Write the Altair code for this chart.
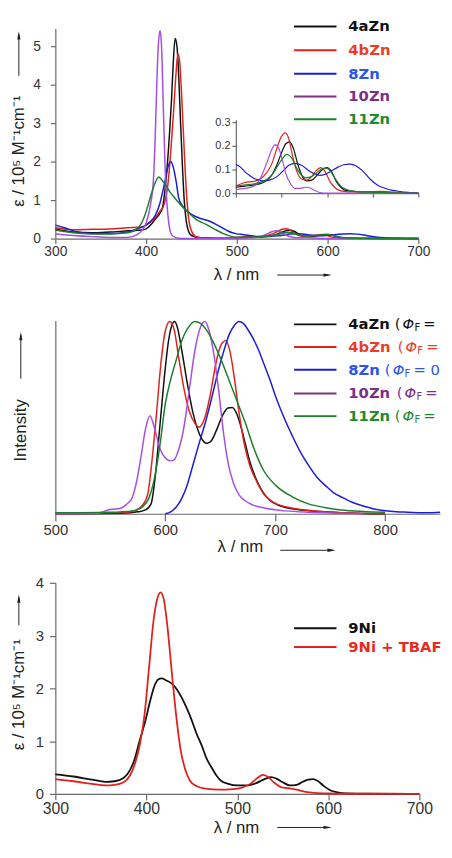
import altair as alt
import pandas as pd

# ---------------- Panel 1: absorption of the Zn complexes ----------------
series_zn = ["4aZn", "4bZn", "8Zn", "10Zn", "11Zn"]
line_colors_zn = ["#111111", "#e0221c", "#1c1cd8", "#a64de3", "#1b7f2c"]
legend_line_colors_zn = ["#111111", "#e0221c", "#1c1cd8", "#7d2f86", "#1b7f2c"]
legend_text_colors_zn = ["#111111", "#ea3d26", "#2a55e8", "#7d2f86", "#1f8a30"]

# Soret region (nm, 1e5 M-1 cm-1)
soret_wl_4aZn = [300, 320, 340, 360, 380, 395, 400, 405, 410, 415, 418, 420, 423, 426, 428, 430, 432, 434, 436, 438, 440, 442, 444, 446, 450, 460, 480]
soret_eps_4aZn = [0.25, 0.17, 0.15, 0.17, 0.2, 0.22, 0.25, 0.35, 0.5, 0.65, 0.8, 1.1, 1.8, 2.8, 3.6, 4.6, 5.2, 5.0, 4.2, 3.0, 1.9, 1.0, 0.5, 0.25, 0.08, 0.02, 0.01]
soret_wl_4bZn = [300, 320, 340, 360, 380, 395, 400, 410, 415, 420, 424, 427, 430, 433, 435, 437, 439, 441, 443, 445, 447, 450, 455, 465, 480]
soret_eps_4bZn = [0.28, 0.23, 0.24, 0.25, 0.28, 0.3, 0.35, 0.55, 0.7, 0.9, 1.4, 2.2, 3.2, 4.3, 4.8, 4.6, 3.8, 2.8, 1.8, 1.0, 0.5, 0.2, 0.05, 0.01, 0.01]
soret_wl_8Zn = [300, 310, 320, 340, 360, 380, 390, 400, 405, 410, 415, 420, 424, 427, 430, 433, 436, 440, 445, 450, 460, 470, 480, 490, 495]
soret_eps_8Zn = [0.35, 0.28, 0.2, 0.13, 0.13, 0.17, 0.25, 0.35, 0.45, 0.6, 0.9, 1.4, 1.85, 2.0, 1.85, 1.5, 1.05, 0.85, 0.72, 0.63, 0.52, 0.45, 0.33, 0.2, 0.15]
soret_wl_10Zn = [300, 320, 340, 360, 380, 390, 395, 400, 405, 408, 410, 412, 414, 415.5, 417, 419, 421, 423, 425, 428, 432, 440, 460, 490]
soret_eps_10Zn = [0.12, 0.08, 0.05, 0.03, 0.03, 0.1, 0.2, 0.4, 0.9, 1.5, 2.6, 4.2, 5.2, 5.4, 5.0, 3.4, 1.8, 0.9, 0.4, 0.1, 0.03, 0.0, 0.0, 0.01]
soret_wl_11Zn = [300, 320, 340, 360, 380, 390, 395, 400, 405, 410, 414, 418, 422, 426, 430, 436, 441, 447, 455, 465, 475, 485, 492]
soret_eps_11Zn = [0.22, 0.15, 0.12, 0.12, 0.15, 0.25, 0.4, 0.7, 1.1, 1.45, 1.6, 1.5, 1.38, 1.22, 1.1, 0.93, 0.8, 0.67, 0.5, 0.38, 0.25, 0.13, 0.07]

# Q-band region (shown in the main plot and in the inset)
q_wl_4aZn = [500, 510, 520, 530, 540, 545, 550, 555, 559, 563, 568, 573, 578, 583, 590, 595, 600, 605, 610, 615, 620, 640, 670, 700]
q_eps_4aZn = [0.025, 0.03, 0.035, 0.045, 0.08, 0.12, 0.17, 0.21, 0.217, 0.19, 0.12, 0.07, 0.052, 0.055, 0.08, 0.1, 0.108, 0.09, 0.05, 0.025, 0.012, 0.005, 0.003, 0.0]
q_wl_4bZn = [500, 510, 520, 530, 540, 545, 550, 554, 558, 562, 567, 572, 578, 583, 588, 593, 598, 603, 608, 615, 630, 660, 680, 700]
q_eps_4bZn = [0.03, 0.045, 0.05, 0.07, 0.13, 0.19, 0.24, 0.255, 0.23, 0.16, 0.09, 0.06, 0.055, 0.07, 0.095, 0.108, 0.09, 0.05, 0.025, 0.01, 0.005, 0.008, 0.002, 0.0]
q_wl_8Zn = [500, 505, 510, 515, 520, 525, 530, 537, 545, 552, 558, 565, 572, 580, 587, 592, 598, 605, 612, 618, 625, 632, 640, 647, 655, 664, 672, 680, 690, 700]
q_eps_8Zn = [0.122, 0.11, 0.09, 0.075, 0.062, 0.055, 0.052, 0.055, 0.07, 0.095, 0.118, 0.126, 0.118, 0.095, 0.08, 0.075, 0.08, 0.095, 0.11, 0.12, 0.123, 0.115, 0.09, 0.06, 0.035, 0.02, 0.012, 0.007, 0.003, 0.0]
q_wl_10Zn = [500, 510, 520, 525, 530, 535, 540, 543, 547, 551, 555, 560, 565, 570, 576, 581, 586, 592, 600, 700]
q_eps_10Zn = [0.015, 0.02, 0.03, 0.05, 0.09, 0.14, 0.19, 0.205, 0.19, 0.14, 0.08, 0.04, 0.02, 0.02, 0.025, 0.023, 0.012, 0.003, 0.0, 0.0]
q_wl_11Zn = [500, 510, 520, 530, 540, 545, 550, 556, 561, 566, 571, 577, 583, 590, 596, 600, 605, 610, 615, 620, 630, 650, 700]
q_eps_11Zn = [0.03, 0.035, 0.04, 0.05, 0.08, 0.11, 0.14, 0.164, 0.15, 0.11, 0.08, 0.065, 0.07, 0.09, 0.105, 0.105, 0.085, 0.055, 0.03, 0.018, 0.008, 0.004, 0.0]

# ---------------- Panel 2: normalised emission ----------------
em_wl_4aZn = [500, 560, 575, 582, 587, 591, 595, 599, 603, 606, 608.5, 611, 615, 620, 625, 630, 635, 638, 642, 647, 652, 657, 661, 665, 669, 673, 677, 682, 688, 695, 705, 720, 740, 760, 780, 800]
em_int_4aZn = [0.0, 0.003, 0.01, 0.02, 0.05, 0.2, 0.45, 0.7, 0.9, 0.98, 1.0, 0.97, 0.85, 0.68, 0.53, 0.43, 0.375, 0.366, 0.38, 0.44, 0.51, 0.55, 0.553, 0.52, 0.45, 0.36, 0.27, 0.19, 0.12, 0.07, 0.04, 0.022, 0.012, 0.006, 0.002, 0.0]
em_wl_4bZn = [500, 540, 560, 570, 576, 580, 584, 588, 592, 596, 600, 604, 608, 612, 617, 622, 627, 631, 636, 641, 646, 651, 655, 659, 663, 667, 672, 677, 683, 690, 700, 715, 730, 750, 780, 800]
em_int_4bZn = [0.0, 0.003, 0.006, 0.012, 0.025, 0.05, 0.1, 0.28, 0.52, 0.78, 0.95, 1.0, 0.96, 0.82, 0.65, 0.53, 0.47, 0.45, 0.5, 0.62, 0.78, 0.88, 0.9, 0.84, 0.7, 0.53, 0.36, 0.25, 0.17, 0.1, 0.055, 0.03, 0.018, 0.008, 0.002, 0.0]
em_wl_8Zn = [600, 605, 610, 615, 620, 625, 631, 637, 643, 649, 654, 658, 663, 667, 671, 676, 680, 685, 689, 695, 701, 708, 716, 723, 731, 738, 746, 753, 761, 770, 780, 790, 805, 820, 838, 850]
em_int_8Zn = [0.0, 0.01, 0.035, 0.08, 0.15, 0.25, 0.37, 0.485, 0.62, 0.76, 0.86, 0.93, 0.98, 1.0, 0.99, 0.95, 0.91, 0.85, 0.79, 0.7, 0.6, 0.5, 0.4, 0.32, 0.246, 0.19, 0.145, 0.11, 0.085, 0.06, 0.04, 0.025, 0.013, 0.008, 0.005, 0.008]
em_wl_10Zn = [500, 535, 542, 548, 555, 560, 565, 570, 574, 578, 582, 586, 590, 595, 600, 605, 608, 612, 617, 622, 627, 632, 636, 640, 645, 649, 653, 657, 662, 667, 672, 680, 690, 710, 730, 760, 780]
em_int_10Zn = [0.0, 0.0, 0.008, 0.02, 0.025, 0.03, 0.05, 0.085, 0.17, 0.3, 0.44, 0.51, 0.45, 0.34, 0.29, 0.275, 0.28, 0.33, 0.45, 0.65, 0.85, 0.97, 1.0, 0.95, 0.8, 0.62, 0.42, 0.27, 0.16, 0.1, 0.07, 0.045, 0.03, 0.015, 0.008, 0.003, 0.0]
em_wl_11Zn = [500, 550, 570, 580, 585, 590, 595, 600, 605, 610, 615, 620, 627, 632, 637, 643, 649, 655, 661, 667, 673, 680, 689, 701, 716, 731, 745, 760, 780, 800]
em_int_11Zn = [0.005, 0.008, 0.015, 0.04, 0.08, 0.18, 0.35, 0.57, 0.7, 0.8, 0.9, 0.96, 1.0, 0.99, 0.96, 0.9, 0.825, 0.74, 0.65, 0.56, 0.47, 0.35, 0.23, 0.145, 0.087, 0.05, 0.033, 0.02, 0.012, 0.008]

# ---------------- Panel 3: absorption of 9Ni ----------------
series_ni = ["9Ni", "9Ni + TBAF"]
line_colors_ni = ["#111111", "#e0221c"]
legend_text_colors_ni = ["#111111", "#ea2a1e"]
abs_wl_9Ni = [300, 320, 340, 355, 365, 375, 382, 387, 392, 399, 404, 409, 413, 416.7, 422, 428, 434, 439, 445, 450, 455, 461, 466, 472, 477, 482, 490, 500, 510, 520, 530, 537, 543, 550, 558, 565, 572, 578, 583, 588, 595, 602, 610, 620, 640, 700]
abs_eps_9Ni = [0.37, 0.33, 0.27, 0.23, 0.24, 0.3, 0.45, 0.65, 0.97, 1.39, 1.75, 2.05, 2.17, 2.19, 2.15, 2.09, 1.97, 1.82, 1.6, 1.39, 1.15, 0.91, 0.68, 0.49, 0.35, 0.25, 0.19, 0.16, 0.16, 0.2, 0.28, 0.32, 0.29, 0.22, 0.16, 0.17, 0.23, 0.27, 0.28, 0.25, 0.15, 0.07, 0.03, 0.01, 0.003, 0.0]
abs_wl_9NiTBAF = [300, 320, 340, 355, 365, 375, 382, 388, 393, 398, 403, 408, 412, 415.6, 419, 423, 428, 433, 438, 443, 448, 455, 465, 480, 495, 505, 515, 522, 528, 533, 540, 548, 556, 565, 575, 585, 600, 620, 700]
abs_eps_9NiTBAF = [0.28, 0.24, 0.19, 0.16, 0.17, 0.22, 0.35, 0.6, 0.95, 1.5, 2.4, 3.3, 3.7, 3.82, 3.7, 3.2, 2.3, 1.45, 0.8, 0.45, 0.25, 0.15, 0.1, 0.08, 0.09, 0.12, 0.2, 0.3, 0.36, 0.33, 0.22, 0.13, 0.11, 0.08, 0.04, 0.02, 0.008, 0.003, 0.0]

phi_prefix = "Φ"  # quantum-yield symbol used in the emission legend


def long_frame(names, wls, vals, key):
    rows = []
    for n, w, v in zip(names, wls, vals):
        for a, b in zip(w, v):
            rows.append({"series": n, "wl": a, key: b})
    return pd.DataFrame(rows)


main_df = long_frame(
    series_zn,
    [soret_wl_4aZn + q_wl_4aZn, soret_wl_4bZn + q_wl_4bZn, soret_wl_8Zn + q_wl_8Zn,
     soret_wl_10Zn + q_wl_10Zn, soret_wl_11Zn + q_wl_11Zn],
    [soret_eps_4aZn + q_eps_4aZn, soret_eps_4bZn + q_eps_4bZn, soret_eps_8Zn + q_eps_8Zn,
     soret_eps_10Zn + q_eps_10Zn, soret_eps_11Zn + q_eps_11Zn],
    "eps")
inset_df = long_frame(series_zn,
                      [q_wl_4aZn, q_wl_4bZn, q_wl_8Zn, q_wl_10Zn, q_wl_11Zn],
                      [q_eps_4aZn, q_eps_4bZn, q_eps_8Zn, q_eps_10Zn, q_eps_11Zn], "eps")
em_df = long_frame(series_zn,
                   [em_wl_4aZn, em_wl_4bZn, em_wl_8Zn, em_wl_10Zn, em_wl_11Zn],
                   [em_int_4aZn, em_int_4bZn, em_int_8Zn, em_int_10Zn, em_int_11Zn], "I")
ni_df = long_frame(series_ni, [abs_wl_9Ni, abs_wl_9NiTBAF], [abs_eps_9Ni, abs_eps_9NiTBAF], "eps")

AX = "#6a6a6a"
LAB = "#333333"
FONT = "Liberation Sans"
LEG_FONT = "DejaVu Sans"
color_zn = alt.Color("series:N", scale=alt.Scale(domain=series_zn, range=line_colors_zn), legend=None)
color_ni = alt.Color("series:N", scale=alt.Scale(domain=series_ni, range=line_colors_ni), legend=None)
Y_TITLE = "ε / 10⁵ M⁻¹cm⁻¹"
X_TITLE = "λ / nm"
TITLE_STYLE = dict(titleFontWeight="normal", titleFont=FONT, titleColor="#222222",
                   titleBaseline="middle", grid=False, labelFlush=False)

UP = "M0,-1L0.4,1L-0.4,1Z"
RIGHT = "M1,0L-1,0.4L-1,-0.4Z"


def arrows(xv, y0, y1, xa0, xa1, ya):
    one = pd.DataFrame({"k": [0]})
    base = alt.Chart(one)
    return [
        base.mark_rule(color="#222", strokeWidth=1).encode(x=alt.value(xv), y=alt.value(y0), y2=alt.value(y1 + 3)),
        base.mark_point(shape=UP, filled=True, size=70, color="#222", opacity=1).encode(x=alt.value(xv), y=alt.value(y1 + 4)),
        base.mark_rule(color="#222", strokeWidth=1).encode(x=alt.value(xa0), x2=alt.value(xa1 - 3), y=alt.value(ya)),
        base.mark_point(shape=RIGHT, filled=True, size=70, color="#222", opacity=1).encode(x=alt.value(xa1 - 4), y=alt.value(ya)),
    ]


def legend_rows(names, lcolors, tcolors, x0, x1, xt, ys, size=15):
    out = []
    for n, lc, tc, yv in zip(names, lcolors, tcolors, ys):
        d = alt.Chart(pd.DataFrame({"label": [n]}))
        out.append(d.mark_rule(color=lc, strokeWidth=2).encode(x=alt.value(x0), x2=alt.value(x1), y=alt.value(yv)))
        out.append(d.mark_text(align="left", baseline="middle", font=LEG_FONT, fontWeight="bold",
                               fontSize=size, color=tc).encode(text="label:N", x=alt.value(xt), y=alt.value(yv)))
    return out


# ---- Panel 1 ----
W1, H1 = 368, 213
main_lines = alt.Chart(main_df).mark_line(strokeWidth=1.5, interpolate="monotone").encode(
    x=alt.X("wl:Q", scale=alt.Scale(domain=[300, 700], nice=False),
            axis=alt.Axis(values=[300, 400, 500, 600, 700], title=X_TITLE, titleX=160, titleY=37,
                          titleAlign="left", titleFontSize=17, labelFontSize=14, tickSize=5, labelPadding=1,
                          **TITLE_STYLE)),
    y=alt.Y("eps:Q", scale=alt.Scale(domain=[0, 5.46], nice=False),
            axis=alt.Axis(values=[0, 1, 2, 3, 4, 5], title=Y_TITLE, titleAngle=270, titleX=-37, titleY=124,
                          titleAlign="center", titleFontSize=17, labelFontSize=14, tickSize=5, labelPadding=10,
                          **TITLE_STYLE)),
    color=color_zn)
inset_lines = alt.Chart(inset_df).mark_line(strokeWidth=1.2, interpolate="monotone").encode(
    x=alt.X("wl:Q", scale=alt.Scale(domain=[500, 700], range=[183, 368], nice=False),
            axis=alt.Axis(orient="bottom", offset=-46, values=[500, 550, 600, 650, 700], labels=False,
                          title=None, tickSize=4, grid=False)),
    y=alt.Y("eps:Q", scale=alt.Scale(domain=[0, 0.31], range=[167, 92.6], nice=False),
            axis=alt.Axis(orient="left", offset=-183, values=[0, 0.1, 0.2, 0.3], title=None,
                          labelFontSize=11, tickSize=4, labelPadding=2, grid=False, labelFlush=False)),
    color=color_zn)
p1 = alt.layer(
    main_lines, inset_lines,
    *legend_rows(series_zn, legend_line_colors_zn, legend_text_colors_zn, 242, 285, 297, [-2, 22, 46, 69, 92]),
    *arrows(-37, 48, 3, 225, 280, 250),
).resolve_scale(x="independent", y="independent").properties(width=W1, height=H1)

# ---- Panel 2 ----
W2, H2 = 390, 196
em_lines = alt.Chart(em_df).mark_line(strokeWidth=1.5, interpolate="monotone").encode(
    x=alt.X("wl:Q", scale=alt.Scale(domain=[500, 850], nice=False),
            axis=alt.Axis(values=[500, 600, 700, 800], title=X_TITLE, titleX=164, titleY=33,
                          titleAlign="left", titleFontSize=17, labelFontSize=15, tickSize=7, labelPadding=2,
                          **TITLE_STYLE)),
    y=alt.Y("I:Q", scale=alt.Scale(domain=[0, 1.005], nice=False),
            axis=alt.Axis(labels=False, ticks=False, title="Intensity", titleAngle=270, titleX=-35,
                          titleY=111, titleAlign="center", titleFontSize=17, **TITLE_STYLE)),
    color=color_zn)

em_leg = []
leg_ys2 = [4, 27, 50, 74, 97]
open_x = [344, 347, 334, 346, 344]
RIGHT_EDGE = 394  # the emission legend is cut at the right edge of the figure
for n, lc, tc, yv, ox in zip(series_zn, legend_line_colors_zn, legend_text_colors_zn, leg_ys2, open_x):
    d = alt.Chart(pd.DataFrame({"label": [n], "open": ["("], "phi": [phi_prefix], "sub": ["F"], "eq": ["= 0"]}))
    em_leg.append(d.mark_rule(color=lc, strokeWidth=2).encode(x=alt.value(242), x2=alt.value(285), y=alt.value(yv)))
    em_leg.append(d.mark_text(align="left", baseline="middle", font=LEG_FONT, fontWeight="bold", fontSize=15,
                              color=tc).encode(text="label:N", x=alt.value(297), y=alt.value(yv)))
    em_leg.append(d.mark_text(align="left", baseline="middle", font=LEG_FONT, fontSize=15,
                              color=tc).encode(text="open:N", x=alt.value(ox), y=alt.value(yv)))
    em_leg.append(d.mark_text(align="left", baseline="middle", font=LEG_FONT, fontStyle="italic", fontSize=15,
                              color=tc).encode(text="phi:N", x=alt.value(ox + 8), y=alt.value(yv)))
    em_leg.append(d.mark_text(align="left", baseline="middle", font=LEG_FONT, fontSize=10,
                              color=tc).encode(text="sub:N", x=alt.value(ox + 20), y=alt.value(yv + 4)))
    em_leg.append(d.mark_text(align="left", baseline="middle", font=LEG_FONT, fontSize=15, color=tc,
                              limit=max(RIGHT_EDGE - (ox + 29), 8), ellipsis=" ").encode(
        text="eq:N", x=alt.value(ox + 29), y=alt.value(yv)))

p2 = alt.layer(em_lines, *em_leg, *arrows(-35, 59, 12, 228, 284, 233)).properties(width=W2, height=H2)

# ---- Panel 3 ----
W3, H3 = 369, 214
ni_lines = alt.Chart(ni_df).mark_line(strokeWidth=1.8, interpolate="monotone").encode(
    x=alt.X("wl:Q", scale=alt.Scale(domain=[300, 700], nice=False),
            axis=alt.Axis(values=[300, 400, 500, 600, 700], title=X_TITLE, titleX=160, titleY=34,
                          titleAlign="left", titleFontSize=17, labelFontSize=16, tickSize=6, labelPadding=1,
                          **TITLE_STYLE)),
    y=alt.Y("eps:Q", scale=alt.Scale(domain=[0, 4], nice=False),
            axis=alt.Axis(values=[0, 1, 2, 3, 4], title=Y_TITLE, titleAngle=270, titleX=-37, titleY=113,
                          titleAlign="center", titleFontSize=17, labelFontSize=15, tickSize=6, labelPadding=6,
                          **TITLE_STYLE)),
    color=color_ni)
p3 = alt.layer(
    ni_lines,
    *legend_rows(series_ni, ["#111111", "#e0221c"], legend_text_colors_ni, 242, 285, 297, [46, 65]),
    *arrows(-37, 43, 12, 225, 280, 248),
).properties(width=W3, height=H3)

chart = alt.vconcat(p1, alt.vconcat(p2, p3, spacing=22), spacing=35).properties(
    padding={"left": 2, "top": 6, "right": 0, "bottom": 0}, background="white"
).configure_view(stroke=None).configure_axis(
    grid=False, domainColor=AX, tickColor=AX, labelColor=LAB, labelFont=FONT, titleFont=FONT,
    titleFontWeight="normal", titleColor="#222222", domainWidth=1.2, tickWidth=1.2
)

chart.save("out.html", embed_options={"renderer": "svg", "actions": False})
